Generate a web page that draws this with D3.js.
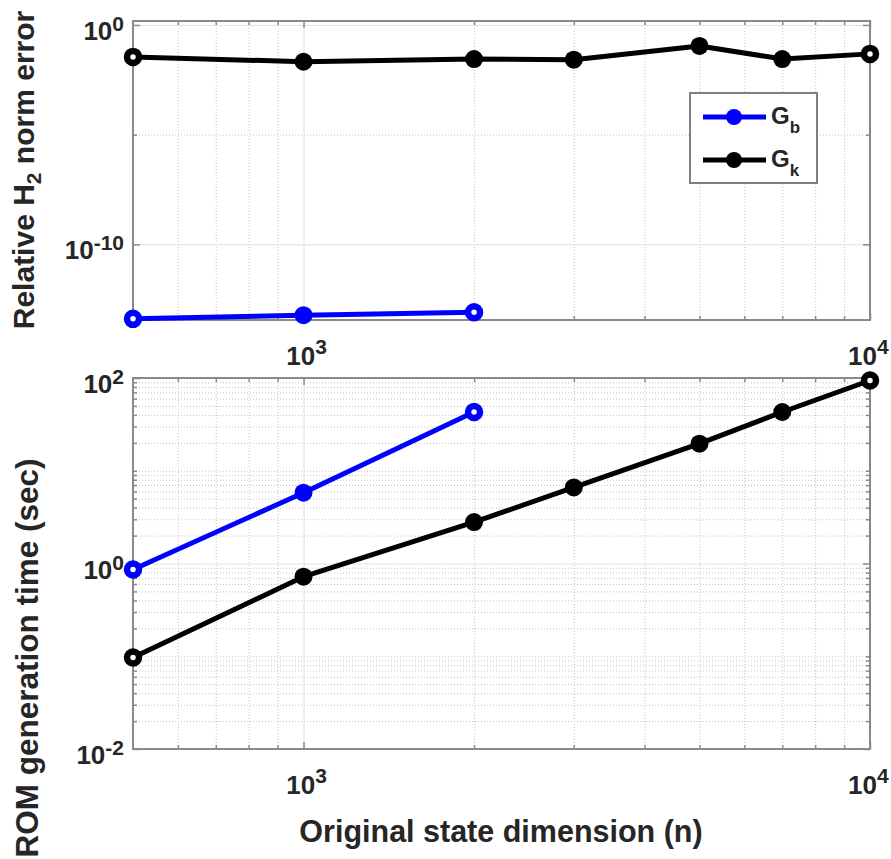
<!DOCTYPE html>
<html>
<head>
<meta charset="utf-8">
<title>ROM error and generation time</title>
<script src="https://d3js.org/d3.v7.min.js"></script>
<style>
  body { margin: 0; background: #fff; }
  text { font-family: "Liberation Sans", Arial, sans-serif; font-weight: bold; fill: #262626; }
  .minor line { stroke: #c4c4c4; stroke-dasharray: 1,2; }
  .major line { stroke: #e2e2e2; }
  .ticks line { stroke: #8a8a8a; stroke-width: 1.5; }
</style>
</head>
<body>
<svg id="chart" width="891" height="859"></svg>
<script>

// original state dimension n
var dims = [500, 1000, 2000, 3000, 5000, 7000, 10000];
var dimsGb = [500, 1000, 2000];

// relative H2 norm error
var errGb = [4.0e-14, 5.9e-14, 8.0e-14];
var errGk = [0.035, 0.021, 0.028, 0.026, 0.11, 0.028, 0.048];

// ROM generation time (sec)
var timeGb = [0.86, 5.8, 43];
var timeGk = [0.097, 0.72, 2.8, 6.6, 19.6, 43, 94];

// tick labels (10^exp)
var xTickVals = [1000, 10000];
var xTickExp = ["3", "4"];
var errTickVals = [1, 1e-10];
var errTickExp = ["0", "-10"];
var errMinorVals = [1e-5];
var timeTickVals = [1e-2, 1, 1e2];
var timeTickExp = ["-2", "0", "2"];

var seriesNames = ["b", "k"];
var seriesColors = ["#0000ff", "#000000"];

var svg = d3.select("#chart");

var x = d3.scaleLog().domain([500, 10000]).range([133, 870]);
var yErr = d3.scaleLog().domain([Math.pow(10, -13.45), Math.pow(10, 0.18)]).range([320, 21]);
var yTime = d3.scaleLog().domain([1e-2, 1e2]).range([749, 378]);

function isIn(v, list) {
    return list.some(function(t) { return Math.abs(Math.log10(v) - Math.log10(t)) < 1e-6; });
}

var xMinor = x.ticks().filter(function(v) { return !isIn(v, xTickVals) && v > 500 && v < 10000; });

// writes 10^exp into a text element
function powLabel(sel, exp, small, rise) {
    sel.text(null);
    sel.append("tspan").text("10");
    sel.append("tspan").attr("font-size", small).attr("dy", -rise).text(exp);
}

function drawPanel(y, yMajor, yMinor, yExp, seriesX, seriesY) {
    var g = svg.append("g");
    var L = x.range()[0], R = x.range()[1];
    var top = y.range()[1], bottom = y.range()[0];
    var h = bottom - top, w = R - L;

    // grid
    g.append("g").attr("class", "minor").attr("transform", "translate(0," + bottom + ")")
        .call(d3.axisBottom(x).tickValues(xMinor).tickSize(-h).tickFormat(""))
        .call(function(a) { a.select(".domain").remove(); });
    g.append("g").attr("class", "minor").attr("transform", "translate(" + L + ",0)")
        .call(d3.axisLeft(y).tickValues(yMinor).tickSize(-w).tickFormat(""))
        .call(function(a) { a.select(".domain").remove(); });
    g.append("g").attr("class", "major").attr("transform", "translate(0," + bottom + ")")
        .call(d3.axisBottom(x).tickValues(xTickVals.filter(function(v){ return v < 10000; })).tickSize(-h).tickFormat(""))
        .call(function(a) { a.select(".domain").remove(); });
    g.append("g").attr("class", "major").attr("transform", "translate(" + L + ",0)")
        .call(d3.axisLeft(y).tickValues(yMajor.filter(function(v){ return y(v) > top + 1 && y(v) < bottom - 1; })).tickSize(-w).tickFormat(""))
        .call(function(a) { a.select(".domain").remove(); });

    // tick marks on all four sides, pointing inward
    var sides = [
        [d3.axisBottom, x, "translate(0," + bottom + ")"],
        [d3.axisTop, x, "translate(0," + top + ")"],
        [d3.axisLeft, y, "translate(" + L + ",0)"],
        [d3.axisRight, y, "translate(" + R + ",0)"]
    ];
    sides.forEach(function(s) {
        var isX = s[1] === x;
        g.append("g").attr("class", "ticks").attr("transform", s[2])
            .call(s[0](s[1]).tickValues(isX ? xTickVals : yMajor).tickSize(-7).tickFormat(""))
            .call(function(a) { a.select(".domain").remove(); });
        g.append("g").attr("class", "ticks").attr("transform", s[2])
            .call(s[0](s[1]).tickValues(isX ? xMinor : yMinor).tickSize(-4).tickFormat(""))
            .call(function(a) { a.select(".domain").remove(); });
    });

    // axes box
    g.append("rect").attr("x", L).attr("y", top).attr("width", w).attr("height", h)
        .attr("fill", "none").attr("stroke", "#8a8a8a").attr("stroke-width", 2);

    // tick labels (kept inside the figure's right edge)
    g.selectAll(".xlab").data(xTickVals).enter().append("text")
        .attr("class", "xlab")
        .attr("x", function(d) { return x(d) + 3; })
        .attr("y", bottom + 45)
        .attr("text-anchor", "middle")
        .attr("font-size", 26)
        .each(function(d, i) {
            var t = d3.select(this);
            powLabel(t, xTickExp[i], 21, 11);
            var bb = this.getBBox();
            if (bb.x + bb.width > 889) t.attr("x", x(d) + 3 - (bb.x + bb.width - 889));
        });

    g.selectAll(".ylab").data(yMajor).enter().append("text")
        .attr("class", "ylab")
        .attr("x", 124)
        .attr("y", function(d) { return y(d) + 15; })
        .attr("text-anchor", "end")
        .attr("font-size", 26)
        .each(function(d, i) { powLabel(d3.select(this), yExp[i], 21, 9); });

    // series
    var line = d3.line().x(function(d) { return x(d[0]); }).y(function(d) { return y(d[1]); });
    seriesY.forEach(function(vals, si) {
        var pts = vals.map(function(v, i) { return [seriesX[si][i], v]; });
        var ends = function(i) { return i === 0 || i === pts.length - 1; };
        g.append("path").datum(pts).attr("d", line)
            .attr("fill", "none").attr("stroke", seriesColors[si]).attr("stroke-width", 5)
            .attr("stroke-linejoin", "round");
        g.selectAll(".m" + si).data(pts).enter().append("circle")
            .attr("cx", function(d) { return x(d[0]); })
            .attr("cy", function(d) { return y(d[1]); })
            .attr("r", function(d, i) { return ends(i) ? 6 : 9; })
            .attr("fill", function(d, i) { return ends(i) ? "#fff" : seriesColors[si]; })
            .attr("stroke", seriesColors[si])
            .attr("stroke-width", function(d, i) { return ends(i) ? 6.5 : 0; });
    });
    return g;
}

drawPanel(yErr, errTickVals, errMinorVals, errTickExp, [dimsGb, dims], [errGb, errGk]);

var timeMinor = yTime.ticks().filter(function(v) { return !isIn(v, timeTickVals); });
drawPanel(yTime, timeTickVals, timeMinor, timeTickExp, [dimsGb, dims], [timeGb, timeGk]);

// axis titles
var t1 = svg.append("text")
    .attr("transform", "translate(34,170) rotate(-90)")
    .attr("text-anchor", "middle")
    .attr("font-size", 30);
t1.append("tspan").text("Relative H");
t1.append("tspan").attr("font-size", 21).attr("dy", 7).text("2");
t1.append("tspan").attr("dy", -7).text(" norm error");

svg.append("text")
    .attr("transform", "translate(38,658) rotate(-90)")
    .attr("text-anchor", "middle")
    .attr("font-size", 31.5)
    .text("ROM generation time (sec)");

svg.append("text")
    .attr("x", 501).attr("y", 842)
    .attr("text-anchor", "middle")
    .attr("font-size", 30.5)
    .text("Original state dimension (n)");

// legend
var lg = svg.append("g");
lg.append("rect").attr("x", 690).attr("y", 93).attr("width", 127).attr("height", 90)
    .attr("fill", "#fff").attr("stroke", "#808080").attr("stroke-width", 2);
var rows = lg.selectAll(".row").data(seriesNames).enter().append("g")
    .attr("transform", function(d, i) { return "translate(0," + (117 + i * 43) + ")"; });
rows.append("line").attr("x1", 703).attr("x2", 766).attr("y1", 0).attr("y2", 0)
    .attr("stroke", function(d, i) { return seriesColors[i]; }).attr("stroke-width", 5);
rows.append("circle").attr("cx", 734).attr("cy", 0).attr("r", 8)
    .attr("fill", function(d, i) { return seriesColors[i]; });
var lt = rows.append("text").attr("x", 771).attr("y", 7).attr("font-size", 24);
lt.append("tspan").text("G");
lt.append("tspan").attr("font-size", 17).attr("dy", 9).text(function(d) { return d; });

</script>
</body>
</html>
